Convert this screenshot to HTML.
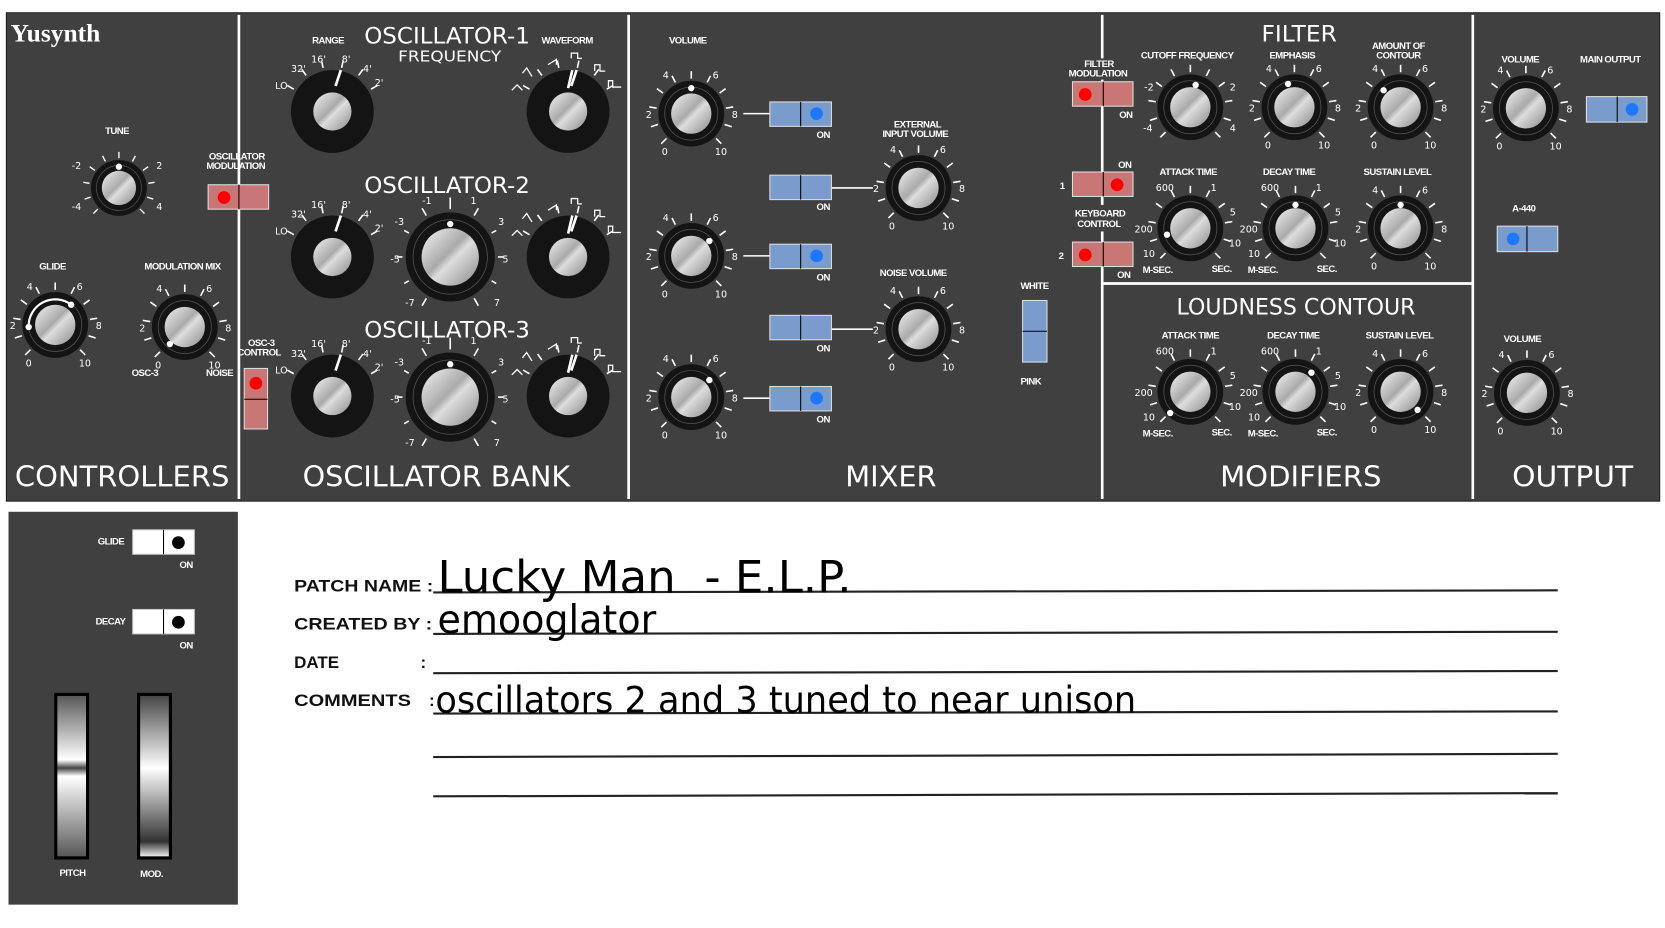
<!DOCTYPE html>
<html><head><meta charset="utf-8"><style>
html,body{margin:0;padding:0;background:#fff;overflow:hidden}
svg{display:block}
.l{font-family:"Liberation Sans",sans-serif;font-weight:bold;font-size:9px;fill:#fff;letter-spacing:-0.5px}
.n{font-family:"DejaVu Sans","Liberation Sans",sans-serif;font-size:9px;fill:#fff;text-anchor:middle}
.t{font-family:"DejaVu Sans","Liberation Sans",sans-serif;font-size:27px;fill:#fff}
.h{font-family:"DejaVu Sans","Liberation Sans",sans-serif;font-size:21px;fill:#fff}
.m{text-anchor:middle}
.b{font-family:"Liberation Sans",sans-serif;font-weight:bold;font-size:16px;fill:#111}
.w{font-family:"DejaVu Sans","Liberation Sans",sans-serif;fill:#000}
</style></head><body>
<svg width="1665" height="928" viewBox="0 0 1568 874" preserveAspectRatio="none" xmlns="http://www.w3.org/2000/svg" xmlns:xlink="http://www.w3.org/1999/xlink">
<defs>
<linearGradient id="sil" x1="0" y1="0" x2="1" y2="1"><stop offset="0" stop-color="#f4f4f4"/><stop offset="0.45" stop-color="#aaa"/><stop offset="0.55" stop-color="#ddd"/><stop offset="1" stop-color="#888"/></linearGradient>
<linearGradient id="sl1" x1="0" y1="0" x2="0" y2="1"><stop offset="0" stop-color="#555"/><stop offset="0.4" stop-color="#fff"/><stop offset="0.45" stop-color="#444"/><stop offset="0.5" stop-color="#fff"/><stop offset="1" stop-color="#555"/></linearGradient>
<linearGradient id="sl2" x1="0" y1="0" x2="0" y2="1"><stop offset="0" stop-color="#444"/><stop offset="0.45" stop-color="#fff"/><stop offset="0.9" stop-color="#333"/><stop offset="1" stop-color="#fff"/></linearGradient>
<g id="k"><circle r="31" fill="#141414"/><circle r="25" fill="none" stroke="#555" stroke-width="0.7"/><circle r="19" fill="url(#sil)"/></g>
<g id="tk" stroke="#fff" stroke-width="1.5">
<line y1="-33" y2="-40" transform="rotate(-135)"/><line y1="-33" y2="-40" transform="rotate(-108)"/><line y1="-33" y2="-40" transform="rotate(-81)"/><line y1="-33" y2="-40" transform="rotate(-54)"/><line y1="-33" y2="-40" transform="rotate(-27)"/><line y1="-33" y2="-40" transform="rotate(0)"/><line y1="-33" y2="-40" transform="rotate(27)"/><line y1="-33" y2="-40" transform="rotate(54)"/><line y1="-33" y2="-40" transform="rotate(81)"/><line y1="-33" y2="-40" transform="rotate(108)"/><line y1="-33" y2="-40" transform="rotate(135)"/></g>
<g id="L"><text class="n" x="-40" y="4">2</text><text class="n" x="41" y="4">8</text><text class="n" x="-24" y="-33">4</text><text class="n" x="23" y="-33">6</text><text class="n" x="-25" y="39">0</text><text class="n" x="28" y="39">10</text></g>
<g id="A"><text class="n" x="-24" y="-35">600</text><text class="n" x="22" y="-35">1</text><text class="n" x="-44" y="4">200</text><text class="n" x="40" y="-12">5</text><text class="n" x="-39" y="27">10</text><text class="n" x="42" y="17">10</text><text class="l" x="-45" y="42">M-SEC.</text><text class="l" x="20" y="41">SEC.</text></g>
<g id="RK"><circle r="39" fill="#141414"/><circle r="18" fill="url(#sil)"/><g stroke="#fff" stroke-width="1.5"><line y1="-42" y2="-49" transform="rotate(-60)"/><line y1="-42" y2="-49" transform="rotate(-36)"/><line y1="-42" y2="-49" transform="rotate(-12)"/><line y1="-42" y2="-49" transform="rotate(12)"/><line y1="-42" y2="-49" transform="rotate(36)"/><line y1="-42" y2="-49" transform="rotate(60)"/></g><line x1="3" y1="-24" x2="8" y2="-39" stroke="#fff" stroke-width="2.5"/></g>
<g id="BK"><circle r="42" fill="#141414"/><circle r="35" fill="none" stroke="#555" stroke-width="0.7"/><circle r="27" fill="url(#sil)"/><g stroke="#fff" stroke-width="1.5"><line y1="-45" y2="-53" transform="rotate(-150)"/><line y1="-45" y2="-50" transform="rotate(-120)"/><line y1="-45" y2="-50" transform="rotate(-90)"/><line y1="-45" y2="-50" transform="rotate(-60)"/><line y1="-45" y2="-53" transform="rotate(-30)"/><line y1="-45" y2="-56" transform="rotate(0)"/><line y1="-45" y2="-53" transform="rotate(30)"/><line y1="-45" y2="-50" transform="rotate(60)"/><line y1="-45" y2="-50" transform="rotate(90)"/><line y1="-45" y2="-50" transform="rotate(120)"/><line y1="-45" y2="-53" transform="rotate(150)"/></g><circle cy="-31" r="3" fill="#fff"/>
<text class="n" x="-22" y="-50">-1</text><text class="n" x="22" y="-50">1</text><text class="n" x="-48" y="-30">-3</text><text class="n" x="48" y="-30">3</text><text class="n" x="-52" y="5">-5</text><text class="n" x="52" y="5">5</text><text class="n" x="-38" y="46">-7</text><text class="n" x="44" y="46">7</text></g>
<g id="RL"><text class="n" x="-48" y="-21">LO</text><text class="n" x="-32" y="-37">32'</text><text class="n" x="-13" y="-46">16'</text><text class="n" x="13" y="-46">8'</text><text class="n" x="33" y="-37">4'</text><text class="n" x="44" y="-24">2'</text></g>
<g id="WV" fill="none" stroke="#fff" stroke-width="1.2"><polyline points="-53,-20 -48,-25 -43,-20"/><polyline points="-43,-36 -39,-41 -34,-33"/><polyline points="-19,-44 -11,-49 -11,-44"/><polyline points="3,-50 3,-55 9,-55 9,-50 13,-50"/><polyline points="25,-38 25,-44 30,-44 30,-38 35,-38"/><polyline points="38,-23 38,-29 42,-29 42,-23 50,-23"/><line x1="0" y1="-22" x2="4" y2="-39" stroke-width="2.5"/></g>
</defs>

<rect x="6" y="12" width="1557" height="460" fill="#404040" stroke="#222" stroke-width="1"/>
<g stroke="#fff" stroke-width="2.5"><line x1="225" y1="14" x2="225" y2="470"/><line x1="592" y1="14" x2="592" y2="470"/><line x1="1038" y1="14" x2="1038" y2="470"/><line x1="1387" y1="14" x2="1387" y2="470"/><line x1="1038" y1="267" x2="1387" y2="267"/></g>

<text x="10" y="39" font-family="Liberation Serif,serif" font-size="24" font-weight="bold" fill="#fff">Yusynth</text>
<text class="t" x="14" y="458" textLength="202" lengthAdjust="spacingAndGlyphs">CONTROLLERS</text>
<text class="t" x="285" y="458" textLength="252" lengthAdjust="spacingAndGlyphs">OSCILLATOR BANK</text>
<text class="t" x="796" y="458" textLength="86" lengthAdjust="spacingAndGlyphs">MIXER</text>
<text class="t" x="1149" y="458" textLength="152" lengthAdjust="spacingAndGlyphs">MODIFIERS</text>
<text class="t" x="1424" y="458" textLength="114" lengthAdjust="spacingAndGlyphs">OUTPUT</text>
<text class="h" x="343" y="41" textLength="156" lengthAdjust="spacingAndGlyphs">OSCILLATOR-1</text>
<text class="h" x="375" y="58" style="font-size:14px" textLength="97" lengthAdjust="spacingAndGlyphs">FREQUENCY</text>
<text class="h" x="343" y="182" textLength="156" lengthAdjust="spacingAndGlyphs">OSCILLATOR-2</text>
<text class="h" x="343" y="318" textLength="156" lengthAdjust="spacingAndGlyphs">OSCILLATOR-3</text>
<text class="h" x="1188" y="39" textLength="71" lengthAdjust="spacingAndGlyphs">FILTER</text>
<text class="h" x="1108" y="296" textLength="225" lengthAdjust="spacingAndGlyphs">LOUDNESS CONTOUR</text>

<!-- controllers -->
<text class="l" x="99" y="126">TUNE</text>
<g transform="translate(112,177)"><use xlink:href="#k" transform="scale(0.85)"/><use xlink:href="#tk" transform="scale(0.85)"/><circle cy="-20" r="3" fill="#fff"/><text class="n" x="-40" y="-18">-2</text><text class="n" x="38" y="-18">2</text><text class="n" x="-40" y="21">-4</text><text class="n" x="38" y="21">4</text></g>
<text class="l" x="37" y="254">GLIDE</text>
<g transform="translate(52,306)"><use xlink:href="#k"/><use xlink:href="#tk"/><use xlink:href="#L"/><path d="M-25,2 A25,25 0 0 1 15,-19" stroke="#fff" stroke-width="2" fill="none"/><circle cx="-25" cy="2" r="3" fill="#fff"/><circle cx="15" cy="-19" r="3" fill="#fff"/></g>
<text class="l" x="136" y="254">MODULATION MIX</text>
<g transform="translate(174,308)"><use xlink:href="#k"/><use xlink:href="#tk"/><use xlink:href="#L"/><circle cx="-14" cy="16" r="3" fill="#fff"/></g>
<text class="l" x="124" y="354">OSC-3</text><text class="l" x="194" y="354">NOISE</text>
<text class="l m" x="223" y="150">OSCILLATOR</text><text class="l m" x="222" y="159">MODULATION</text>
<rect x="196" y="174" width="57" height="23" fill="#c87676" stroke="#ddd"/><line x1="225" y1="174" x2="225" y2="197" stroke="#000"/><circle cx="211" cy="186" r="6" fill="#f00"/>
<text class="l m" x="246" y="326">OSC-3</text><text class="l m" x="244" y="335">CONTROL</text>
<rect x="230" y="347" width="22" height="57" fill="#c87676" stroke="#ddd"/><line x1="230" y1="376" x2="252" y2="376" stroke="#000"/><circle cx="241" cy="361" r="6" fill="#f00"/>

<!-- oscillators -->
<text class="l" x="294" y="41">RANGE</text><text class="l" x="510" y="41">WAVEFORM</text>
<g transform="translate(313,105)"><use xlink:href="#RK"/><use xlink:href="#RL"/></g>
<g transform="translate(313,242)"><use xlink:href="#RK"/><use xlink:href="#RL"/></g>
<g transform="translate(313,373)"><use xlink:href="#RK"/><use xlink:href="#RL"/></g>
<g transform="translate(535,105)"><use xlink:href="#RK"/><use xlink:href="#WV"/></g>
<g transform="translate(535,242)"><use xlink:href="#RK"/><use xlink:href="#WV"/></g>
<g transform="translate(535,373)"><use xlink:href="#RK"/><use xlink:href="#WV"/></g>
<g transform="translate(424,242)"><use xlink:href="#BK"/></g>
<g transform="translate(424,374)"><use xlink:href="#BK"/></g>

<!-- mixer -->
<text class="l" x="630" y="41">VOLUME</text>
<g transform="translate(651,107)"><use xlink:href="#k"/><use xlink:href="#tk"/><use xlink:href="#L"/><circle cy="-24" r="3" fill="#fff"/></g>
<g transform="translate(651,241)"><use xlink:href="#k"/><use xlink:href="#tk"/><use xlink:href="#L"/><circle cx="17" cy="-14" r="3" fill="#fff"/></g>
<g transform="translate(651,374)"><use xlink:href="#k"/><use xlink:href="#tk"/><use xlink:href="#L"/><circle cx="17" cy="-16" r="3" fill="#fff"/></g>
<g stroke="#fff" stroke-width="1.5"><line x1="700" y1="107" x2="725" y2="107"/><line x1="700" y1="241" x2="725" y2="241"/><line x1="700" y1="375" x2="725" y2="375"/><line x1="783" y1="177" x2="822" y2="177"/><line x1="783" y1="310" x2="822" y2="310"/></g>
<g fill="#7a9ccc" stroke="#ddd"><rect x="725" y="96" width="58" height="23"/><rect x="725" y="165" width="58" height="23"/><rect x="725" y="230" width="58" height="23"/><rect x="725" y="297" width="58" height="23"/><rect x="725" y="364" width="58" height="23"/><rect x="963" y="283" width="23" height="58"/><rect x="1494" y="91" width="57" height="24"/><rect x="1410" y="213" width="57" height="24"/></g>
<g stroke="#000"><line x1="754" y1="96" x2="754" y2="119"/><line x1="754" y1="165" x2="754" y2="188"/><line x1="754" y1="230" x2="754" y2="253"/><line x1="754" y1="297" x2="754" y2="320"/><line x1="754" y1="364" x2="754" y2="387"/><line x1="963" y1="312" x2="986" y2="312"/><line x1="1523" y1="91" x2="1523" y2="115"/><line x1="1438" y1="213" x2="1438" y2="237"/></g>
<g fill="#1e78ff"><circle cx="769" cy="107" r="6"/><circle cx="769" cy="241" r="6"/><circle cx="769" cy="375" r="6"/><circle cx="1537" cy="103" r="6"/><circle cx="1425" cy="225" r="6"/></g>
<text class="l" x="769" y="130">ON</text><text class="l" x="769" y="198">ON</text><text class="l" x="769" y="264">ON</text><text class="l" x="769" y="331">ON</text><text class="l" x="769" y="398">ON</text>
<text class="l m" x="864" y="120">EXTERNAL</text><text class="l m" x="862" y="129">INPUT VOLUME</text>
<g transform="translate(865,177)"><use xlink:href="#k"/><use xlink:href="#tk"/><use xlink:href="#L"/></g>
<text class="l m" x="860" y="260">NOISE VOLUME</text>
<g transform="translate(865,310)"><use xlink:href="#k"/><use xlink:href="#tk"/><use xlink:href="#L"/></g>
<text class="l" x="961" y="272">WHITE</text><text class="l" x="961" y="362">PINK</text>

<!-- filter switches -->
<rect x="1002" y="55" width="70" height="20" fill="#404040"/>
<text class="l m" x="1035" y="63">FILTER</text><text class="l m" x="1034" y="72">MODULATION</text>
<g fill="#c87676" stroke="#ddd"><rect x="1010" y="77" width="57" height="23"/><rect x="1010" y="162" width="57" height="23"/><rect x="1010" y="228" width="57" height="23"/></g>
<rect x="1005" y="193" width="66" height="25" fill="#404040"/>
<g stroke="#000"><line x1="1039" y1="77" x2="1039" y2="100"/><line x1="1039" y1="162" x2="1039" y2="185"/><line x1="1039" y1="228" x2="1039" y2="251"/></g>
<g fill="#f00"><circle cx="1022" cy="89" r="6"/><circle cx="1052" cy="174" r="6"/><circle cx="1022" cy="240" r="6"/></g>
<text class="l" x="1054" y="111">ON</text><text class="l" x="1053" y="158">ON</text><text class="l" x="1052" y="262">ON</text>
<text class="l" x="998" y="178">1</text><text class="l" x="997" y="244">2</text>
<text class="l m" x="1036" y="204">KEYBOARD</text><text class="l m" x="1035" y="214">CONTROL</text>

<!-- filter knobs -->
<text class="l m" x="1118" y="55">CUTOFF FREQUENCY</text><text class="l m" x="1217" y="55">EMPHASIS</text>
<text class="l m" x="1317" y="46">AMOUNT OF</text><text class="l m" x="1317" y="55">CONTOUR</text>
<g transform="translate(1121,101)"><use xlink:href="#k"/><use xlink:href="#tk"/><circle cx="5" cy="-21" r="3" fill="#fff"/><text class="n" x="-39" y="-16">-2</text><text class="n" x="40" y="-16">2</text><text class="n" x="-40" y="23">-4</text><text class="n" x="40" y="23">4</text></g>
<g transform="translate(1219,101)"><use xlink:href="#k"/><use xlink:href="#tk"/><use xlink:href="#L"/><circle cx="-6" cy="-22" r="3" fill="#fff"/></g>
<g transform="translate(1319,101)"><use xlink:href="#k"/><use xlink:href="#tk"/><use xlink:href="#L"/><circle cx="-16" cy="-16" r="3" fill="#fff"/></g>
<text class="l m" x="1119" y="165">ATTACK TIME</text><text class="l m" x="1214" y="165">DECAY TIME</text><text class="l m" x="1316" y="165">SUSTAIN LEVEL</text>
<g transform="translate(1121,215)"><use xlink:href="#k"/><use xlink:href="#tk"/><use xlink:href="#A"/><circle cx="-22" cy="6" r="3" fill="#fff"/></g>
<g transform="translate(1220,215)"><use xlink:href="#k"/><use xlink:href="#tk"/><use xlink:href="#A"/><circle cy="-22" r="3" fill="#fff"/></g>
<g transform="translate(1319,215)"><use xlink:href="#k"/><use xlink:href="#tk"/><use xlink:href="#L"/><circle cy="-22" r="3" fill="#fff"/></g>
<text class="l m" x="1121" y="319">ATTACK TIME</text><text class="l m" x="1218" y="319">DECAY TIME</text><text class="l m" x="1318" y="319">SUSTAIN LEVEL</text>
<g transform="translate(1121,369)"><use xlink:href="#k"/><use xlink:href="#tk"/><use xlink:href="#A"/><circle cx="-19" cy="20" r="3" fill="#fff"/></g>
<g transform="translate(1220,369)"><use xlink:href="#k"/><use xlink:href="#tk"/><use xlink:href="#A"/><circle cx="15" cy="-18" r="3" fill="#fff"/></g>
<g transform="translate(1319,369)"><use xlink:href="#k"/><use xlink:href="#tk"/><use xlink:href="#L"/><circle cx="16" cy="17" r="3" fill="#fff"/></g>

<!-- output -->
<text class="l" x="1414" y="59">VOLUME</text><text class="l" x="1488" y="59">MAIN OUTPUT</text>
<g transform="translate(1437,102)"><use xlink:href="#k"/><use xlink:href="#tk"/><use xlink:href="#L"/></g>
<text class="l" x="1424" y="199">A-440</text>
<text class="l" x="1416" y="322">VOLUME</text>
<g transform="translate(1438,370)"><use xlink:href="#k"/><use xlink:href="#tk"/><use xlink:href="#L"/></g>

<!-- bottom left panel -->
<rect x="8" y="482" width="216" height="370" fill="#404040"/>
<text class="l" x="92" y="513">GLIDE</text><text class="l" x="90" y="588">DECAY</text>
<rect x="125" y="499" width="58" height="23" fill="#fff" stroke="#ccc"/><line x1="154" y1="499" x2="154" y2="522" stroke="#000"/><circle cx="168" cy="511" r="6" fill="#000"/>
<rect x="125" y="574" width="58" height="23" fill="#fff" stroke="#ccc"/><line x1="154" y1="574" x2="154" y2="597" stroke="#000"/><circle cx="168" cy="586" r="6" fill="#000"/>
<text class="l" x="169" y="535">ON</text><text class="l" x="169" y="611">ON</text>
<rect x="52.5" y="654" width="30" height="154" fill="url(#sl1)" stroke="#000" stroke-width="3"/>
<rect x="130.5" y="654" width="30" height="154" fill="url(#sl2)" stroke="#000" stroke-width="3"/>
<text class="l" x="56" y="825">PITCH</text><text class="l" x="132" y="826">MOD.</text>

<!-- patch sheet -->
<text class="b" x="277" y="557" textLength="131" lengthAdjust="spacingAndGlyphs">PATCH NAME :</text>
<text class="b" x="277" y="593" textLength="130" lengthAdjust="spacingAndGlyphs">CREATED BY :</text>
<text class="b" x="277" y="629">DATE</text><text class="b" x="396" y="629">:</text>
<text class="b" x="277" y="665" textLength="110" lengthAdjust="spacingAndGlyphs">COMMENTS</text><text class="b" x="404" y="665">:</text>
<g stroke="#222" stroke-width="2"><line x1="408" y1="558" x2="1467" y2="556"/><line x1="408" y1="597" x2="1467" y2="595"/><line x1="408" y1="634" x2="1467" y2="632"/><line x1="408" y1="672" x2="1467" y2="670"/><line x1="408" y1="713" x2="1467" y2="710"/><line x1="408" y1="750" x2="1467" y2="747"/></g>
<text class="w" x="412" y="558" font-size="42" xml:space="preserve" textLength="390" lengthAdjust="spacingAndGlyphs">Lucky Man  - E.L.P.</text>
<text class="w" x="412" y="596" font-size="37" textLength="206" lengthAdjust="spacingAndGlyphs">emooglator</text>
<text class="w" x="410" y="671" font-size="34" textLength="660" lengthAdjust="spacingAndGlyphs">oscillators 2 and 3 tuned to near unison</text>
</svg>
</body></html>
